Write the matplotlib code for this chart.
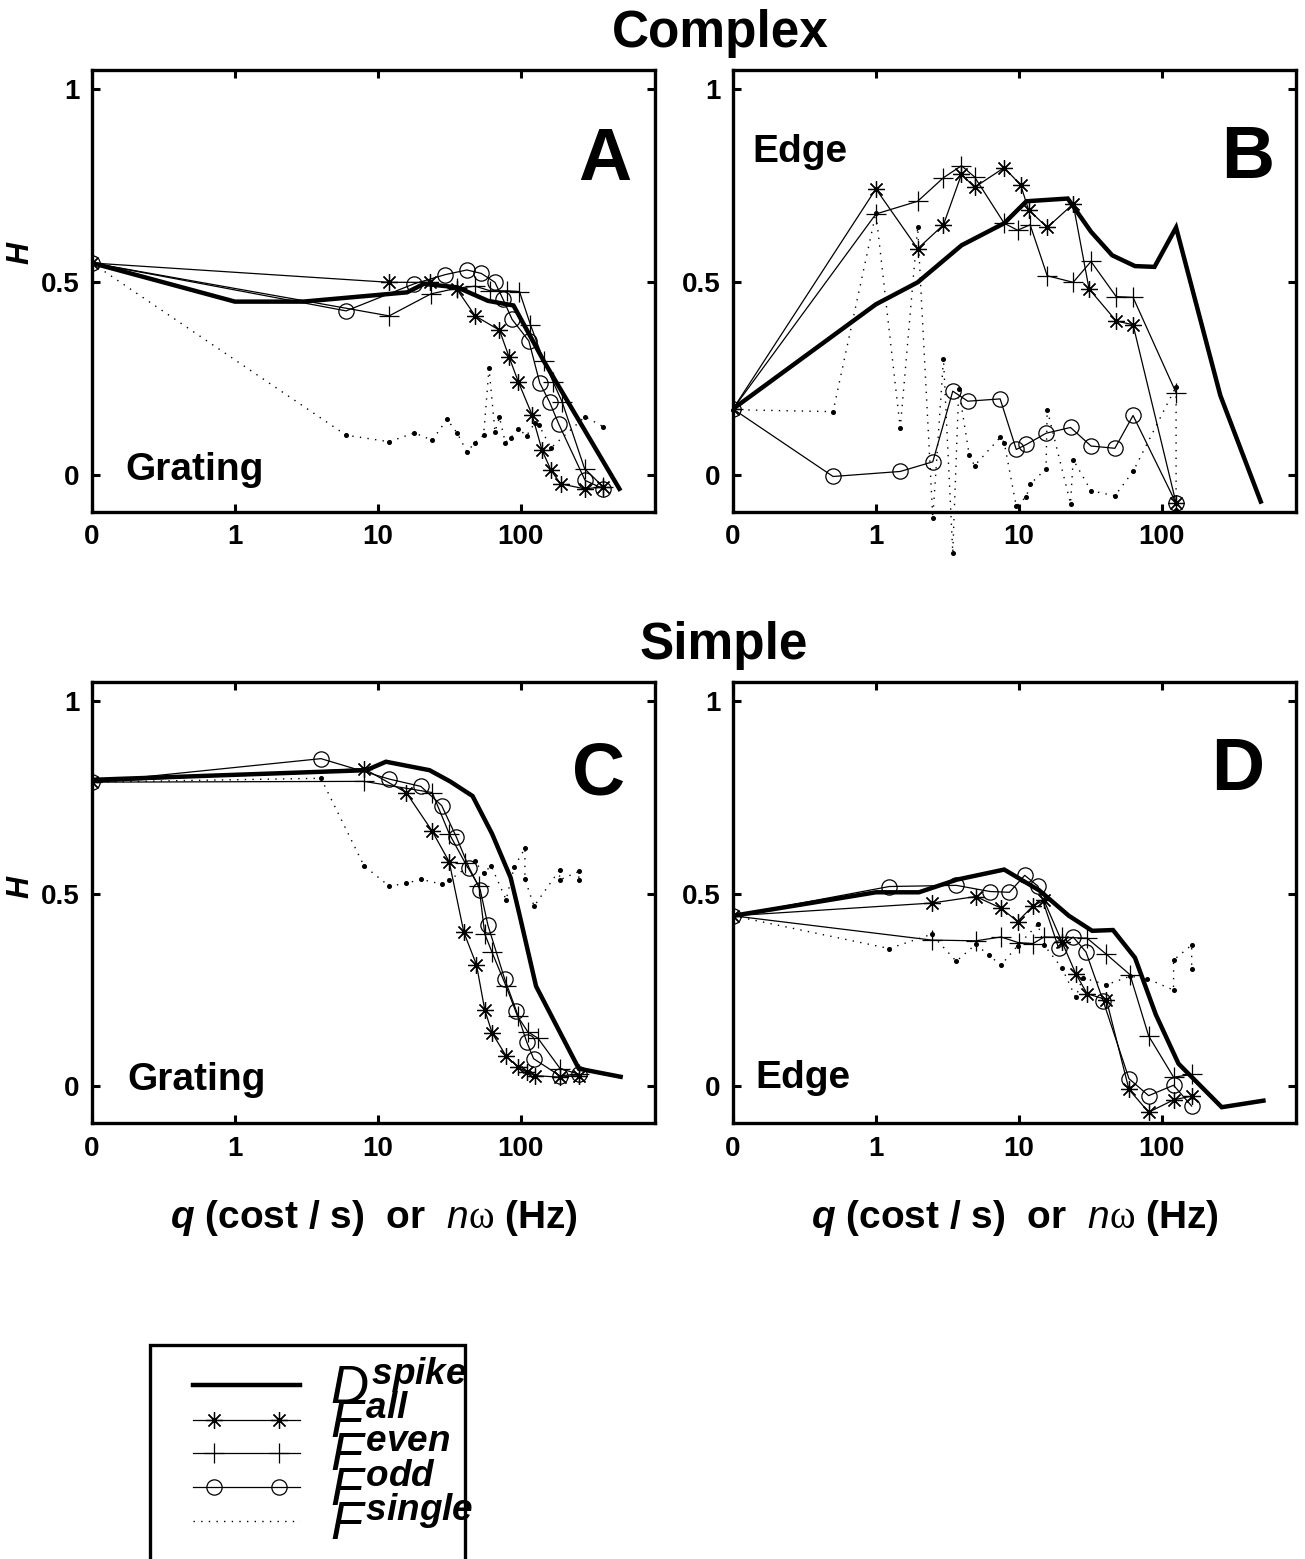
import numpy as np
import matplotlib
matplotlib.use('Agg')
import matplotlib.pyplot as plt
from matplotlib.ticker import FixedLocator, NullLocator
from matplotlib.patches import Rectangle
from matplotlib.lines import Line2D
from matplotlib.legend_handler import HandlerLine2D

plt.rcParams['font.family'] = ['Liberation Sans', 'DejaVu Sans']
plt.rcParams['font.weight'] = 'bold'
plt.rcParams['mathtext.fontset'] = 'custom'
plt.rcParams['mathtext.it'] = 'Liberation Sans:style=italic:weight=normal'
plt.rcParams['mathtext.bf'] = 'Liberation Sans:style=italic:weight=bold'
plt.rcParams['mathtext.rm'] = 'Liberation Sans:weight=bold'
plt.rcParams['mathtext.sf'] = 'Liberation Serif:weight=normal'

# ---- Complex cell, grating (A) ----
a_spike_x = [0, 1, 3, 16, 21, 36, 59, 89, 145, 490]
a_spike_y = [0.55, 0.45, 0.45, 0.474, 0.496, 0.487, 0.452, 0.44, 0.296, -0.035]
a_all_x = [0, 12, 23, 35.6, 48, 71, 83, 96, 120, 141, 163, 190, 280, 378]
a_all_y = [0.55, 0.5, 0.5, 0.483, 0.413, 0.376, 0.306, 0.243, 0.157, 0.065, 0.013, -0.022, -0.035, -0.03]
a_even_x = [0, 12, 23.5, 36, 48, 61, 80, 98, 117, 145, 168, 195, 280, 378]
a_even_y = [0.55, 0.413, 0.47, 0.485, 0.49, 0.478, 0.478, 0.476, 0.39, 0.296, 0.243, 0.19, 0.017, -0.03]
a_odd_x = [0, 6, 17.9, 29.7, 42, 53, 66, 75, 87, 114, 136, 159, 185, 282, 378]
a_odd_y = [0.55, 0.426, 0.496, 0.52, 0.532, 0.523, 0.5, 0.457, 0.404, 0.348, 0.239, 0.19, 0.132, -0.013, -0.035]
a_single_x = [0, 6, 12, 18, 24, 30.5, 36, 42, 48, 55, 60, 66, 71, 78, 85, 96, 110, 125, 134, 163, 282, 378]
a_single_y = [0.55, 0.104, 0.087, 0.11, 0.091, 0.145, 0.109, 0.061, 0.085, 0.104, 0.278, 0.113, 0.15, 0.085,
              0.097, 0.12, 0.103, 0.135, 0.13, 0.071, 0.152, 0.126]

# ---- Complex cell, edge (B) ----
b_spike_x = [0, 1, 1.96, 3.98, 7.9, 11.3, 22, 32, 45, 65, 89, 126, 257, 493]
b_spike_y = [0.172, 0.443, 0.5, 0.596, 0.653, 0.71, 0.717, 0.631, 0.57, 0.542, 0.54, 0.642, 0.207, -0.068]
b_all_x = [0, 1, 1.96, 2.97, 3.97, 4.9, 7.9, 10.3, 11.7, 15.8, 24, 31, 48, 63, 126]
b_all_y = [0.172, 0.742, 0.587, 0.649, 0.78, 0.746, 0.797, 0.752, 0.688, 0.642, 0.703, 0.483, 0.4, 0.39, -0.072]
b_even_x = [0, 1, 1.96, 2.97, 3.97, 4.9, 7.9, 9.8, 12, 15.8, 24, 32, 48, 63, 126]
b_even_y = [0.172, 0.677, 0.71, 0.771, 0.802, 0.773, 0.653, 0.635, 0.649, 0.517, 0.5, 0.554, 0.463, 0.461, 0.214]
b_odd_x = [0, 0.7, 1.48, 2.5, 3.45, 4.4, 7.4, 9.6, 11.3, 15.5, 23, 32, 47, 63, 126]
b_odd_y = [0.172, -0.003, 0.01, 0.035, 0.218, 0.192, 0.198, 0.067, 0.08, 0.109, 0.124, 0.076, 0.07, 0.155, -0.072]
b_single_x = [0, 0.7, 1, 1.48, 1.96, 2.5, 2.97, 3.45, 3.8, 4.5, 4.9, 7.4, 7.9, 9.6, 11.3, 12, 15.5, 15.8,
              23, 24, 32, 47, 63, 126, 126]
b_single_y = [0.17, 0.165, 0.68, 0.122, 0.642, -0.11, 0.302, -0.2, 0.223, 0.052, 0.025, 0.098, 0.085, -0.08,
              -0.055, -0.023, 0.017, 0.17, -0.073, 0.041, -0.04, -0.053, 0.01, 0.23, -0.09]

# ---- Simple cell, grating (C) ----
c_spike_x = [0, 8.3, 11.4, 23, 32, 46, 63, 85, 98, 128, 255, 500]
c_spike_y = [0.796, 0.821, 0.843, 0.821, 0.792, 0.754, 0.656, 0.542, 0.446, 0.26, 0.046, 0.025]
c_all_x = [0, 8, 15.8, 24, 31.6, 40, 49, 56, 63, 79, 96, 110, 126, 187, 255]
c_all_y = [0.79, 0.825, 0.763, 0.663, 0.583, 0.4, 0.316, 0.199, 0.139, 0.079, 0.05, 0.037, 0.028, 0.024, 0.028]
c_even_x = [0, 8, 24, 31.6, 41, 51, 56, 63, 79, 95, 112, 132, 189, 255]
c_even_y = [0.79, 0.792, 0.763, 0.656, 0.579, 0.52, 0.396, 0.348, 0.26, 0.182, 0.142, 0.125, 0.046, 0.032]
c_odd_x = [0, 4, 12, 20, 28, 35.5, 43.5, 52, 59, 77, 93, 110, 123, 187, 255]
c_odd_y = [0.79, 0.851, 0.798, 0.779, 0.729, 0.647, 0.568, 0.511, 0.418, 0.28, 0.197, 0.116, 0.072, 0.028, 0.031]
c_single_x = [0, 4, 8, 12, 15.8, 20, 28, 31.6, 48, 55, 62, 79, 90, 107, 107, 124, 187, 187, 255, 255]
c_single_y = [0.79, 0.8, 0.573, 0.52, 0.527, 0.538, 0.525, 0.535, 0.584, 0.553, 0.573, 0.485, 0.57, 0.618,
              0.538, 0.468, 0.562, 0.536, 0.558, 0.537]

# ---- Simple cell, edge (D) ----
d_spike_x = [0, 1, 2.0, 3.7, 7.9, 13.9, 22.4, 32.6, 45.6, 65, 91, 131, 263, 515]
d_spike_y = [0.443, 0.504, 0.504, 0.537, 0.563, 0.509, 0.443, 0.404, 0.406, 0.334, 0.186, 0.059, -0.054, -0.037]
d_all_x = [0, 2.45, 5.0, 7.5, 9.8, 12.6, 15, 20, 25, 30, 41, 59, 81, 121, 162]
d_all_y = [0.443, 0.476, 0.493, 0.463, 0.428, 0.469, 0.483, 0.376, 0.293, 0.241, 0.225, -0.008, -0.067, -0.035, -0.025]
d_even_x = [0, 2.45, 5, 7.5, 10, 12.6, 15, 20, 30, 41, 60, 81, 121, 162]
d_even_y = [0.443, 0.38, 0.378, 0.388, 0.373, 0.371, 0.388, 0.387, 0.385, 0.343, 0.29, 0.131, 0.024, 0.031]
d_odd_x = [0, 1.24, 3.65, 6.3, 8.6, 11.0, 13.6, 19, 24, 29.5, 39, 59, 81, 121, 162]
d_odd_y = [0.443, 0.519, 0.522, 0.506, 0.504, 0.548, 0.52, 0.359, 0.388, 0.349, 0.221, 0.02, -0.024, 0.003, -0.051]
d_single_x = [0, 1.24, 2.45, 3.65, 5, 6.2, 7.5, 9.8, 13.6, 15, 20, 25, 28, 41, 60, 79, 121, 121, 162, 162]
d_single_y = [0.443, 0.358, 0.395, 0.325, 0.369, 0.34, 0.315, 0.365, 0.421, 0.367, 0.308, 0.231, 0.282, 0.264,
              0.286, 0.28, 0.25, 0.328, 0.367, 0.306]

xtick_vals = [0, 1, 10, 100]
xtick_labels = ['0', '1', '10', '100']
ytick_vals = [0, 0.5, 1]
ytick_labels = ['0', '0.5', '1']

legend_labels = [r'$\mathit{D}^{\mathbf{spike}}$', r'$\mathit{F}^{\mathbf{all}}$', r'$\mathit{F}^{\mathbf{even}}$',
                 r'$\mathit{F}^{\mathbf{odd}}$', r'$\mathit{F}^{\mathbf{single}}$']

# line styles: spike, all, even, odd, single
styles = [
    dict(color='k', lw=3.2, solid_joinstyle='miter'),
    dict(color='k', lw=0.9, marker=(8, 2, 0), ms=12, mew=0.9),
    dict(color='k', lw=0.9, marker='+', ms=14, mew=0.9),
    dict(color='k', lw=0.9, marker='o', ms=11, mew=0.9, mfc='none'),
    dict(color='k', lw=1.0, dashes=(1, 4.5), marker='o', ms=2.6),
]


class InsetMarkerHandler(HandlerLine2D):
    # line over the whole key, markers only on the 2nd and 5th of six points;
    # the dotted single-cycle trace is keyed by its dots alone
    def create_artists(self, legend, orig_handle, xdescent, ydescent, width, height, fontsize, trans):
        arts = super().create_artists(legend, orig_handle, xdescent, ydescent, width, height, fontsize, trans)
        for a in arts:
            if orig_handle.get_markersize() < 4:
                a.set_marker('None')
            else:
                a.set_markevery([1, 4])
        return arts


def draw_panel(ax, series, single_clip=True):
    lines = []
    for i, (xs, ys) in enumerate(series):
        kw = dict(styles[i])
        if i == 4:
            kw['clip_on'] = single_clip
        lines += ax.plot(xs, ys, **kw)
    ax.set_xscale('symlog', linthresh=1, linscale=0.9)
    ax.set_xlim(0, 870)
    ax.set_ylim(-0.095, 1.05)
    ax.xaxis.set_major_locator(FixedLocator(xtick_vals))
    ax.xaxis.set_minor_locator(NullLocator())
    ax.set_xticklabels(xtick_labels)
    ax.set_yticks(ytick_vals)
    ax.set_yticklabels(ytick_labels)
    ax.tick_params(direction='in', top=True, right=True, length=6, width=2.2, labelsize=20, pad=9)
    for s in ax.spines.values():
        s.set_linewidth(2.4)
    return lines


fig = plt.figure(figsize=(13.05, 15.59), dpi=100)
W, H = 1305.0, 1559.0


def add_axes(left, top, right, bottom):
    return fig.add_axes([left / W, 1 - bottom / H, (right - left) / W, (bottom - top) / H])


axA = add_axes(92, 70, 655, 512)
axB = add_axes(733, 70, 1296, 512)
axC = add_axes(92, 682, 655, 1123)
axD = add_axes(733, 682, 1296, 1123)

handles = draw_panel(axA, [(a_spike_x, a_spike_y), (a_all_x, a_all_y), (a_even_x, a_even_y),
                           (a_odd_x, a_odd_y), (a_single_x, a_single_y)])
draw_panel(axB, [(b_spike_x, b_spike_y), (b_all_x, b_all_y), (b_even_x, b_even_y),
                 (b_odd_x, b_odd_y), (b_single_x, b_single_y)], single_clip=False)
draw_panel(axC, [(c_spike_x, c_spike_y), (c_all_x, c_all_y), (c_even_x, c_even_y),
                 (c_odd_x, c_odd_y), (c_single_x, c_single_y)])
draw_panel(axD, [(d_spike_x, d_spike_y), (d_all_x, d_all_y), (d_even_x, d_even_y),
                 (d_odd_x, d_odd_y), (d_single_x, d_single_y)])

for ax, letter, xy in [(axA, 'A', (0.911, 0.796)), (axB, 'B', (0.915, 0.80)),
                       (axC, 'C', (0.899, 0.789)), (axD, 'D', (0.897, 0.80))]:
    ax.text(xy[0], xy[1], letter, transform=ax.transAxes, fontsize=53, fontweight='bold',
            ha='center', va='center')

axA.text(0.06, 0.095, 'Grating', transform=axA.transAxes, fontsize=28, fontweight='bold', va='center')
axB.text(0.034, 0.815, 'Edge', transform=axB.transAxes, fontsize=28, fontweight='bold', va='center')
axC.text(0.062, 0.0975, 'Grating', transform=axC.transAxes, fontsize=28, fontweight='bold', va='center')
axD.text(0.039, 0.102, 'Edge', transform=axD.transAxes, fontsize=28, fontweight='bold', va='center')

for ax, ypos in [(axA, 0.586), (axC, 0.535)]:
    ax.set_ylabel('H', fontsize=22, fontweight='bold', fontstyle='italic')
    ax.yaxis.set_label_coords(-0.10, ypos)

xlab = r'$\mathbf{q}$ (cost / s)  or  $\mathit{n}\mathsf{\omega}$ (Hz)'
for ax in (axC, axD):
    ax.set_xlabel(xlab, fontsize=28, fontweight='bold', labelpad=26)

fig.text(720 / W, 1 - 33 / H, 'Complex', fontsize=37, fontweight='bold', ha='center', va='center')
fig.text(724 / W, 1 - 645 / H, 'Simple', fontsize=37, fontweight='bold', ha='center', va='center')

fig.legend(handles, legend_labels, loc='upper left', bbox_to_anchor=(193 / W, 1 - 1364 / H),
           frameon=False, numpoints=6, handlelength=2.03, handletextpad=0.57, labelspacing=-0.316,
           borderpad=0, borderaxespad=0, fontsize=38,
           handler_map={Line2D: InsetMarkerHandler(marker_pad=0)})
fig.patches.append(Rectangle((150 / W, -0.02), 315 / W, (1559 - 1345) / H + 0.02, transform=fig.transFigure,
                             fill=False, lw=2.4, edgecolor='k'))

fig.savefig('out.png', dpi=100)
